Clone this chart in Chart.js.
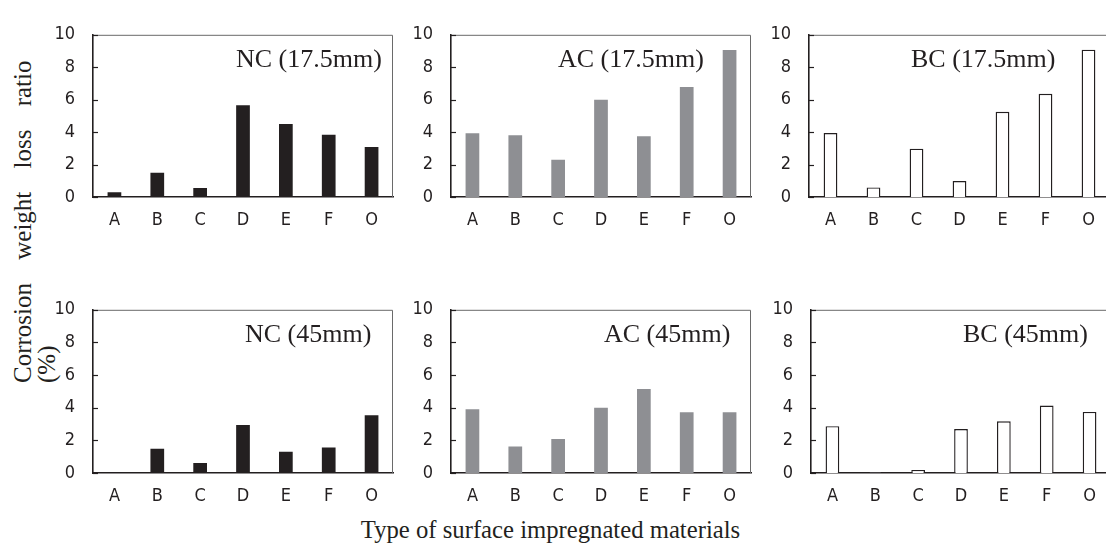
<!DOCTYPE html>
<html><head><meta charset="utf-8">
<script src="https://cdn.jsdelivr.net/npm/chart.js@4.4.1/dist/chart.umd.min.js"></script>
<style>
html,body{margin:0;padding:0;background:#fff;}
body{width:1106px;height:549px;position:relative;overflow:hidden;}
canvas{position:absolute;}
.ytitle{position:absolute;transform-origin:0 0;transform:rotate(-90deg);white-space:nowrap;font-family:'Liberation Serif','Times New Roman',serif;font-size:25px;line-height:25px;color:#231f20;}
.xtitle{position:absolute;white-space:nowrap;text-align:center;font-family:'Liberation Serif','Times New Roman',serif;font-size:24.7px;line-height:25px;color:#231f20;}
</style></head><body>
<div class="ytitle" style="left:10px;top:383px;word-spacing:17px;">Corrosion weight loss ratio</div>
<div class="ytitle" style="left:34px;top:383px;">(%)</div>
<div class="xtitle" style="left:0;width:1101px;top:517px;">Type of surface impregnated materials</div>
<script>
// ---- data ----
const categories = ['A','B','C','D','E','F','O'];
const yTickValues = [0,2,4,6,8,10];
const ncThin  = [0.3, 1.5, 0.56, 5.66, 4.5, 3.84, 3.09];
const acThin  = [3.93, 3.8, 2.3, 6.0, 3.74, 6.78, 9.07];
const bcThin  = [3.94, 0.59, 2.98, 0.98, 5.25, 6.36, 9.08];
const ncThick = [0.05, 1.48, 0.61, 2.94, 1.3, 1.57, 3.54];
const acThick = [3.91, 1.63, 2.09, 4.0, 5.15, 3.72, 3.72];
const bcThick = [2.87, 0.03, 0.19, 2.69, 3.17, 4.13, 3.74];
const panelTitles = ['NC (17.5mm)','AC (17.5mm)','BC (17.5mm)','NC (45mm)','AC (45mm)','BC (45mm)'];
const panelSeries = [ncThin, acThin, bcThin, ncThick, acThick, bcThick];
const panelKinds = ['NC','AC','BC','NC','AC','BC'];

// ---- layout / style ----
const boxes = [
  {left:93,  top:18,  w:300, h:179, tx:143},
  {left:451, top:18,  w:300, h:179, tx:107},
  {left:809, top:18,  w:301, h:179, tx:102},
  {left:93,  top:293, w:300, h:180, tx:152},
  {left:451, top:293, w:300, h:180, tx:153},
  {left:811, top:293, w:300, h:180, tx:152}
];
const styles = {
  NC:{bg:'#231f20', border:'#231f20', bw:0},
  AC:{bg:'#8e8f93', border:'#8e8f93', bw:0},
  BC:{bg:'#ffffff', border:'#231f20', bw:1.4}
};
const INK = '#231f20';
const TICK_FONT = "'DejaVu Sans Condensed', 'Liberation Sans Narrow', 'Liberation Sans', sans-serif";
const YW = 45, PT = 12, PR = 6, XH = 40;

const framePlugin = {
  id:'frame',
  afterDraw(chart, args, opts){
    const {ctx, chartArea:a} = chart;
    const y = chart.scales.y;
    ctx.save();
    ctx.strokeStyle = '#6a6a6a'; ctx.lineWidth = 1;
    ctx.beginPath();
    ctx.moveTo(a.left, a.top + 0.5);
    ctx.lineTo(a.right - 0.5, a.top + 0.5);
    ctx.lineTo(a.right - 0.5, a.bottom);
    ctx.stroke();
    ctx.strokeStyle = INK; ctx.lineWidth = 1.2;
    y.ticks.forEach((t, i) => {
      const py = Math.round(y.getPixelForTick(i)) + 0.5;
      ctx.beginPath(); ctx.moveTo(a.left, py); ctx.lineTo(a.left + 5, py); ctx.stroke();
    });
    ctx.font = "26px 'Liberation Serif', 'Times New Roman', serif";
    ctx.fillStyle = INK; ctx.textAlign = 'left'; ctx.textBaseline = 'alphabetic';
    ctx.fillText(opts.text, a.left + opts.x, a.top + 32);
    ctx.restore();
  }
};

panelSeries.forEach((vals, i) => {
  const b = boxes[i];
  const st = styles[panelKinds[i]];
  const cv = document.createElement('canvas');
  const W = YW + b.w + PR, H = PT + b.h + XH;
  cv.width = W; cv.height = H;
  cv.style.left = (b.left - YW) + 'px';
  cv.style.top = (b.top - PT) + 'px';
  cv.style.width = W + 'px'; cv.style.height = H + 'px';
  document.body.appendChild(cv);
  new Chart(cv, {
    type:'bar',
    data:{
      labels: categories,
      datasets:[{
        data: vals,
        backgroundColor: st.bg,
        borderColor: st.border,
        borderWidth: st.bw,
        barPercentage: 0.32,
        categoryPercentage: 1.0
      }]
    },
    options:{
      responsive:false,
      animation:false,
      devicePixelRatio:1,
      layout:{padding:{left:0, top:PT, right:PR, bottom:0}},
      plugins:{
        legend:{display:false},
        tooltip:{enabled:false},
        frame:{text: panelTitles[i], x: b.tx}
      },
      scales:{
        x:{
          grid:{display:false, drawTicks:false},
          border:{display:true, color:INK, width:1.6},
          ticks:{color:INK, padding:13, font:{family:TICK_FONT, size:18}},
          afterFit(s){ s.height = XH; }
        },
        y:{
          min:0, max:10,
          afterBuildTicks(s){ s.ticks = yTickValues.map(v => ({value:v})); },
          grid:{display:false, drawTicks:false},
          border:{display:true, color:INK, width:1.6},
          ticks:{color:INK, padding:18, font:{family:TICK_FONT, size:18}},
          afterFit(s){ s.width = YW; }
        }
      }
    },
    plugins:[framePlugin]
  });
});
</script>
</body></html>
